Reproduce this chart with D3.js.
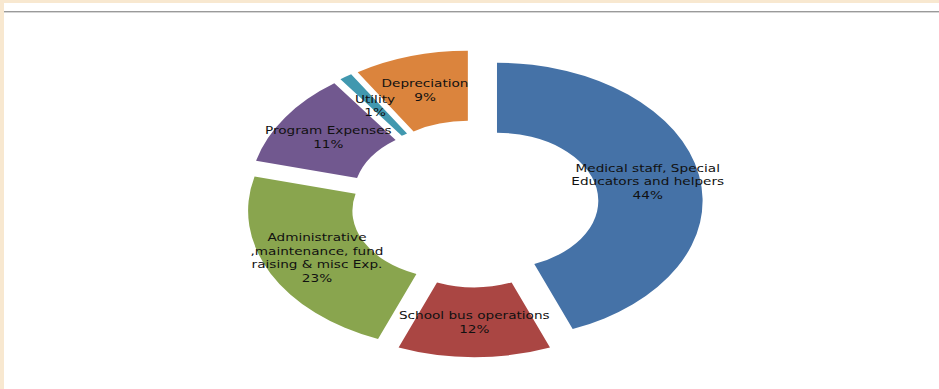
<!DOCTYPE html>
<html>
<head>
<meta charset="utf-8">
<script src="https://cdn.jsdelivr.net/npm/d3@7"></script>
<style>
  body { margin: 0; background: #fff; }
  svg { display: block; }
</style>
</head>
<body>
<div id="container"></div>
<script>
var categories = [
    ["Medical staff, Special", "Educators and helpers"],
    ["School bus operations"],
    ["Administrative", ",maintenance, fund", "raising & misc Exp."],
    ["Program Expenses"],
    ["Utility"],
    ["Depreciation"]
];
var values = [44, 12, 23, 11, 1, 9];
var colors = ["#4572A7", "#AA4643", "#89A54E", "#71588F", "#4198AF", "#DB843D"];

var width = 939, height = 389;

var svg = d3.select("#container").append("svg")
    .attr("width", width)
    .attr("height", height);

// page frame: beige edges and grey rule
svg.append("rect").attr("x", 0).attr("y", 0).attr("width", width).attr("height", 3).attr("fill", "#F8E8D0");
svg.append("rect").attr("x", 0).attr("y", 0).attr("width", 4).attr("height", height).attr("fill", "#F8E8D0");
svg.append("rect").attr("x", 4).attr("y", 11).attr("width", width - 4).attr("height", 1).attr("fill", "#9a9a9a");
svg.append("rect").attr("x", 4).attr("y", 12).attr("width", width - 4).attr("height", 1).attr("fill", "#d6d6d6");

var cx = 474.3, cy = 203.7;
var sx = 1.49, sy = 1;          // picture is stretched horizontally
var outer = 138, inner = 68, explode = 15.5;

var data = values.map((v, i) => ({ value: v, lines: categories[i], color: colors[i] }));

var pie = d3.pie().value(d => d.value).sort(null);
var arc = d3.arc().innerRadius(inner).outerRadius(outer);
var arcs = pie(data);

var main = svg.append("g")
    .attr("transform", `translate(${cx},${cy}) scale(${sx},${sy})`);

main.selectAll("path.slice")
    .data(arcs)
    .enter().append("path")
    .attr("class", "slice")
    .attr("d", arc)
    .attr("fill", d => d.data.color)
    .attr("transform", d => {
        var a = (d.startAngle + d.endAngle) / 2;
        return `translate(${explode * Math.sin(a)},${-explode * Math.cos(a)})`;
    });

// labels at the slice middle, text a bit wider like the stretched original
var labels = svg.append("g");
var lineH = 13.5;
arcs.forEach(d => {
    var a = (d.startAngle + d.endAngle) / 2;
    var r = (inner + outer) / 2 + explode;
    var x = cx + sx * r * Math.sin(a);
    var y = cy - sy * r * Math.cos(a);
    var lines = d.data.lines.concat([d.data.value + "%"]);
    var t = labels.append("text")
        .attr("transform", `translate(${x},${y}) scale(1.24,1)`)
        .attr("text-anchor", "middle")
        .style("font-family", "DejaVu Sans, Verdana, sans-serif")
        .style("font-size", "11px")
        .attr("fill", "#111");
    lines.forEach((s, j) => {
        t.append("tspan")
            .attr("x", 0)
            .attr("y", (j - (lines.length - 1) / 2) * lineH)
            .attr("dy", "0.35em")
            .text(s);
    });
});
</script>
</body>
</html>
